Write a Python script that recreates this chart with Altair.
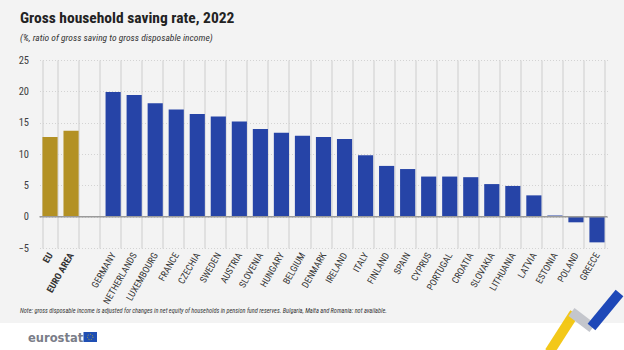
import altair as alt
import pandas as pd

categories = ["EU", "EURO AREA", " ", "GERMANY", "NETHERLANDS", "LUXEMBOURG", "FRANCE",
              "CZECHIA", "SWEDEN", "AUSTRIA", "SLOVENIA", "HUNGARY", "BELGIUM", "DENMARK",
              "IRELAND", "ITALY", "FINLAND", "SPAIN", "CYPRUS", "PORTUGAL", "CROATIA",
              "SLOVAKIA", "LITHUANIA", "LATVIA", "ESTONIA", "POLAND", "GREECE"]
values = [12.7, 13.7, None, 19.9, 19.4, 18.1, 17.1, 16.4, 16.0, 15.2, 14.0, 13.4, 12.9,
          12.7, 12.4, 9.8, 8.1, 7.6, 6.4, 6.4, 6.3, 5.2, 4.9, 3.4, 0.2, -0.9, -4.1]
groups = ["agg", "agg", "none"] + ["country"] * 24
y_ticks = [-5, 0, 5, 10, 15, 20, 25]

title = "Gross household saving rate, 2022"
subtitle = "(%, ratio of gross saving to gross disposable income)"
note = ("Note: gross disposable income is adjusted for changes in net equity of households "
        "in pension fund reserves. Bulgaria, Malta and Romania: not available.")

df = pd.DataFrame({"cat": categories, "val": values, "grp": groups})

FONT = "Roboto Condensed, Noto Sans ExtraCondensed, Noto Sans Condensed, DejaVu Sans Condensed, sans-serif"
W, H = 568, 188


def y_enc():
    return alt.Y("val:Q", title=None,
                 scale=alt.Scale(domain=[-5, 25], nice=False),
                 axis=alt.Axis(values=y_ticks, labelFont=FONT, labelFontSize=10.5,
                               labelColor="#404040", ticks=False, domain=False,
                               labelOverlap=False,
                               labelPadding=11, gridColor="#d3d3d3", gridDash=[1, 2],
                               gridWidth=1))


bars = alt.Chart(df).mark_bar().encode(
    x=alt.X("cat:N", sort=categories, title=None,
            scale=alt.Scale(paddingInner=0.28, paddingOuter=0.14),
            axis=alt.Axis(labelAngle=-60, labelFont=FONT, labelFontSize=9.5,
                          labelColor="#333333",
                          labelFontWeight={"condition": {"test": "datum.value == 'EU' || datum.value == 'EURO AREA'", "value": "bold"}, "value": "normal"},
                          ticks=False, domain=False, labelPadding=5, labelOverlap=False,
                          grid=True, tickBand="extent", gridColor="#dadada",
                          gridWidth=1.5)),
    y=y_enc(),
    color=alt.Color("grp:N", legend=None,
                    scale=alt.Scale(domain=["agg", "country", "none"],
                                    range=["#b39124", "#2644a7", "#ffffff"])),
)

zero = alt.Chart(pd.DataFrame({"val": [0]})).mark_rule(color="#9a9a9a", strokeWidth=1.5).encode(
    y=y_enc())

one = pd.DataFrame({"k": [0]})

white_strip = alt.Chart(one).mark_rect(color="#ffffff").encode(
    x=alt.value(-40), x2=alt.value(590), y=alt.value(263), y2=alt.value(292))

note_txt = alt.Chart(one).mark_text(text=note, font=FONT, fontSize=6.3, fontStyle="italic",
                                    align="left", baseline="alphabetic", color="#333333").encode(
    x=alt.value(-19.5), y=alt.value(253))

logo_txt = alt.Chart(one).mark_text(text="eurostat", font="DejaVu Sans", fontSize=11.5,
                                    fontWeight="bold", align="left", baseline="alphabetic",
                                    color="#7a7d88").encode(
    x=alt.value(-11.5), y=alt.value(282))

flag = alt.Chart(one).mark_rect(color="#1f4fb4").encode(
    x=alt.value(44), x2=alt.value(57.5), y=alt.value(272), y2=alt.value(282))
flag_ring = alt.Chart(one).mark_point(shape="circle", size=30, color="#f5d300",
                                      strokeWidth=1, strokeDash=[1, 1.5]).encode(
    x=alt.value(50.7), y=alt.value(277))

rib_y = alt.Chart(one).mark_rule(color="#f2c200", strokeWidth=10, strokeCap="butt", opacity=0.9).encode(
    x=alt.value(510), y=alt.value(292), x2=alt.value(535), y2=alt.value(253))
rib_g = alt.Chart(one).mark_rule(color="#c4c6cc", strokeWidth=10, strokeCap="butt").encode(
    x=alt.value(532), y=alt.value(252), x2=alt.value(553), y2=alt.value(268))
rib_b = alt.Chart(one).mark_rule(color="#1e48b8", strokeWidth=10, strokeCap="butt").encode(
    x=alt.value(552), y=alt.value(267), x2=alt.value(580), y2=alt.value(233))

chart = alt.layer(white_strip, bars, zero, note_txt, logo_txt, flag, flag_ring,
                  rib_y, rib_g, rib_b).properties(
    width=W, height=H,
    title=alt.TitleParams(text=title, subtitle=subtitle, anchor="start", frame="group",
                          font=FONT, fontSize=15.5, fontWeight="bold", color="#222222",
                          subtitleFont=FONT, subtitleFontSize=9.5, subtitleFontStyle="italic",
                          subtitleColor="#333333", subtitlePadding=6, offset=13, dx=-19.5),
    autosize=alt.AutoSizeParams(type="none"),
    padding={"left": 39.5, "top": 60, "right": 16.5, "bottom": 102},
    background="#f3f3f3",
).configure_view(stroke=None)

chart.save("out.html", embed_options={"renderer": "svg", "actions": False})
